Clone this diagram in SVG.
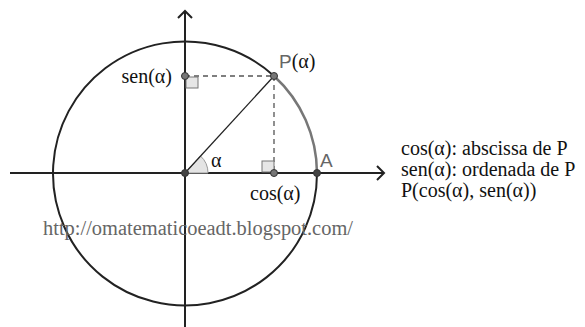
<svg xmlns="http://www.w3.org/2000/svg" width="585" height="327" viewBox="0 0 585 327">
<style>
.ax{stroke:#222;stroke-width:2;fill:none}
.dash{stroke:#555;stroke-width:1.3;stroke-dasharray:5,4;fill:none}
.sq{fill:#e6e6e6;stroke:#777;stroke-width:1}
.serif{font-family:"Liberation Serif","Times New Roman",serif;font-size:20px;fill:#111}
.sans{font-family:"Liberation Sans",Arial,sans-serif;font-size:19px;fill:#666}
.pt{stroke:#333;stroke-width:1}
</style>
<rect width="585" height="327" fill="#fff"/>
<g id="axes">
<line class="ax" x1="10" y1="173" x2="384" y2="173"/>
<polyline class="ax" points="377,166 384,173 377,180"/>
<line class="ax" x1="185" y1="327" x2="185" y2="11"/>
<polyline class="ax" points="178,18 185,11 192,18"/>
</g>
<g id="circle">
<path d="M317,173 A132,132 0 1 1 274,76" class="ax"/>
<path d="M274,76 A132,132 0 0 1 317,173" stroke="#777" stroke-width="2.5" fill="none"/>
</g>
<g id="connectors">
<path d="M185,173 L208,173 A23,23 0 0 0 200.5,156 Z" fill="#e4e4e4" stroke="#999" stroke-width="1"/>
<line x1="185" y1="173" x2="274" y2="76" stroke="#222" stroke-width="1.3"/>
<line class="dash" x1="185" y1="76" x2="274" y2="76"/>
<line class="dash" x1="274" y1="76" x2="274" y2="173"/>
<rect class="sq" x="186" y="77" width="12" height="11"/>
<rect class="sq" x="262" y="161" width="12" height="11"/>
</g>
<g id="O"><circle class="pt" cx="185" cy="173" r="3.5" fill="#444"/></g>
<g id="A"><circle class="pt" cx="317" cy="173" r="3.5" fill="#444"/><text class="sans" x="320" y="167">A</text></g>
<g id="P"><circle class="pt" cx="274" cy="76" r="3.5" fill="#777"/><text x="279" y="68"><tspan class="sans">P</tspan><tspan class="serif">(α)</tspan></text></g>
<g id="sen"><circle class="pt" cx="185" cy="76" r="3.5" fill="#777"/><text class="serif" x="172" y="83" text-anchor="end">sen(α)</text></g>
<g id="cos"><circle class="pt" cx="274" cy="173" r="3.5" fill="#777"/><text class="serif" x="250" y="200">cos(α)</text></g>
<g id="alpha"><text class="serif" x="211" y="167">α</text></g>
<g id="notes">
<text class="serif" x="401" y="155">cos(α): abscissa de P</text>
<text class="serif" x="401" y="176">sen(α): ordenada de P</text>
<text class="serif" x="401" y="197">P(cos(α), sen(α))</text>
</g>
<text x="43" y="235" font-family="Liberation Serif,serif" font-size="20.5" fill="#666" textLength="310" lengthAdjust="spacingAndGlyphs">http://omatematicoeadt.blogspot.com/</text>
</svg>
